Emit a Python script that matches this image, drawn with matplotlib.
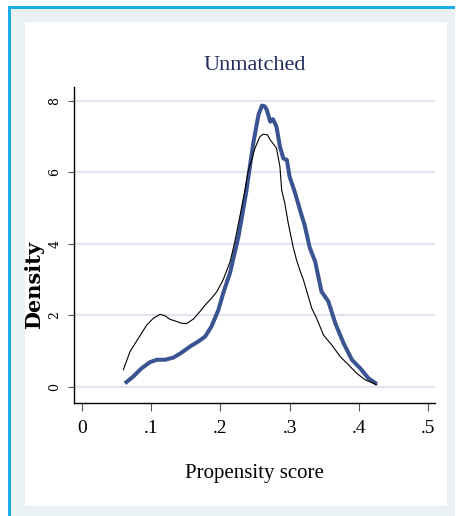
import matplotlib
matplotlib.use("Agg")
import matplotlib.pyplot as plt
from matplotlib.patches import Rectangle

# ---- data ----
ctrl_x = [.0597, .0694, .0814, .0935, .103, .1127, .120, .127, .137, .144, .151, .161,
          .1705, .178, .187, .195, .204, .214, .221, .228, .2355, .240, .250, .257,
          .262, .268, .272, .276, .281, .286, .2885, .293, .298, .305, .310, .316,
          .320, .332, .339, .349, .361, .373, .385, .397, .409, .426]
ctrl_d = [0.48, 0.99, 1.36, 1.73, 1.92, 2.03, 1.99, 1.89, 1.83, 1.78, 1.77, 1.90,
          2.11, 2.29, 2.48, 2.67, 3.00, 3.50, 4.08, 4.76, 5.51, 6.02, 6.68, 7.00,
          7.07, 7.05, 6.91, 6.81, 6.68, 6.16, 5.51, 5.14, 4.58, 3.92, 3.55, 3.20,
          2.99, 2.20, 1.92, 1.45, 1.17, 0.85, 0.62, 0.38, 0.20, 0.06]

treat_x = [.062, .074, .086, .098, .108, .120, .132, .144, .156, .168, .178, .187,
           .197, .204, .214, .226, .237, .2475, .255, .260, .264, .267, .272, .276,
           .281, .286, .291, .296, .300, .308, .315, .322, .329, .337, .346, .356,
           .366, .378, .390, .402, .414, .426]
treat_d = [0.10, 0.29, 0.52, 0.69, 0.76, 0.76, 0.82, 0.96, 1.13, 1.27, 1.41, 1.69,
           2.15, 2.62, 3.20, 4.20, 5.42, 6.82, 7.61, 7.87, 7.85, 7.75, 7.42, 7.49,
           7.28, 6.72, 6.39, 6.35, 5.88, 5.42, 4.95, 4.50, 3.90, 3.50, 2.67, 2.39,
           1.78, 1.22, 0.76, 0.52, 0.24, 0.08]

xticks = [0, .1, .2, .3, .4, .5]
xtick_labels = ["0", ".1", ".2", ".3", ".4", ".5"]
yticks = [0, 2, 4, 6, 8]
ytick_labels = ["0", "2", "4", "6", "8"]

W, H = 460, 516
fig = plt.figure(figsize=(W / 100, H / 100), dpi=100)
fig.patch.set_facecolor("white")

def px_rect(x0, y0, x1, y1, color):
    fig.patches.append(Rectangle((x0 / W, 1 - y1 / H), (x1 - x0) / W, (y1 - y0) / H,
                                 transform=fig.transFigure, facecolor=color,
                                 edgecolor="none", zorder=-10))

# outer grey background and white inner panel
px_rect(10, 9, 455, H, "#e9f1f3")
px_rect(25, 22, 447, 506, "white")
# cyan frame lines (left and top)
px_rect(8, 7, 11, H, "#19aee8")
px_rect(8, 6, 455, 9, "#19aee8")

ax = fig.add_axes([74 / W, 1 - 403 / H, 361 / W, 316 / H])
ax.set_facecolor("white")
ax.set_xlim(-0.0116, 0.5101)
ax.set_ylim(-0.45, 8.39)

ax.set_yticks(yticks)
ax.set_yticklabels(ytick_labels, rotation=90, va="center",
                   fontfamily="DejaVu Serif", fontsize=9)
ax.set_xticks(xticks)
ax.set_xticklabels(xtick_labels, fontfamily="Liberation Serif", fontsize=14)

for y in yticks:
    ax.axhline(y, color="#e0e4f1", lw=1.4, zorder=0)

ax.plot(ctrl_x, ctrl_d, color="black", lw=0.8, zorder=3)
ax.plot(treat_x, treat_d, color="#3a5391", lw=2.9, zorder=2,
        solid_capstyle="butt")

for s in ["top", "right"]:
    ax.spines[s].set_visible(False)
ax.spines["left"].set_linewidth(1.0)
ax.spines["bottom"].set_linewidth(1.0)
ax.tick_params(axis="x", length=6, width=0.8, color="#555555", pad=6)
ax.tick_params(axis="y", length=4, width=0.8, color="#555555", pad=5)

ax.set_title("Unmatched", fontfamily="Liberation Serif", fontsize=16,
             color="#222c5c", pad=12)
ax.set_xlabel("Propensity score", fontfamily="Liberation Serif", fontsize=15,
              labelpad=20)
ax.set_ylabel("Density", fontfamily="DejaVu Serif", fontweight="bold",
              fontsize=15)
ax.yaxis.set_label_coords(-0.083, 0.373)

fig.savefig("out.png", dpi=100, facecolor=fig.get_facecolor())
